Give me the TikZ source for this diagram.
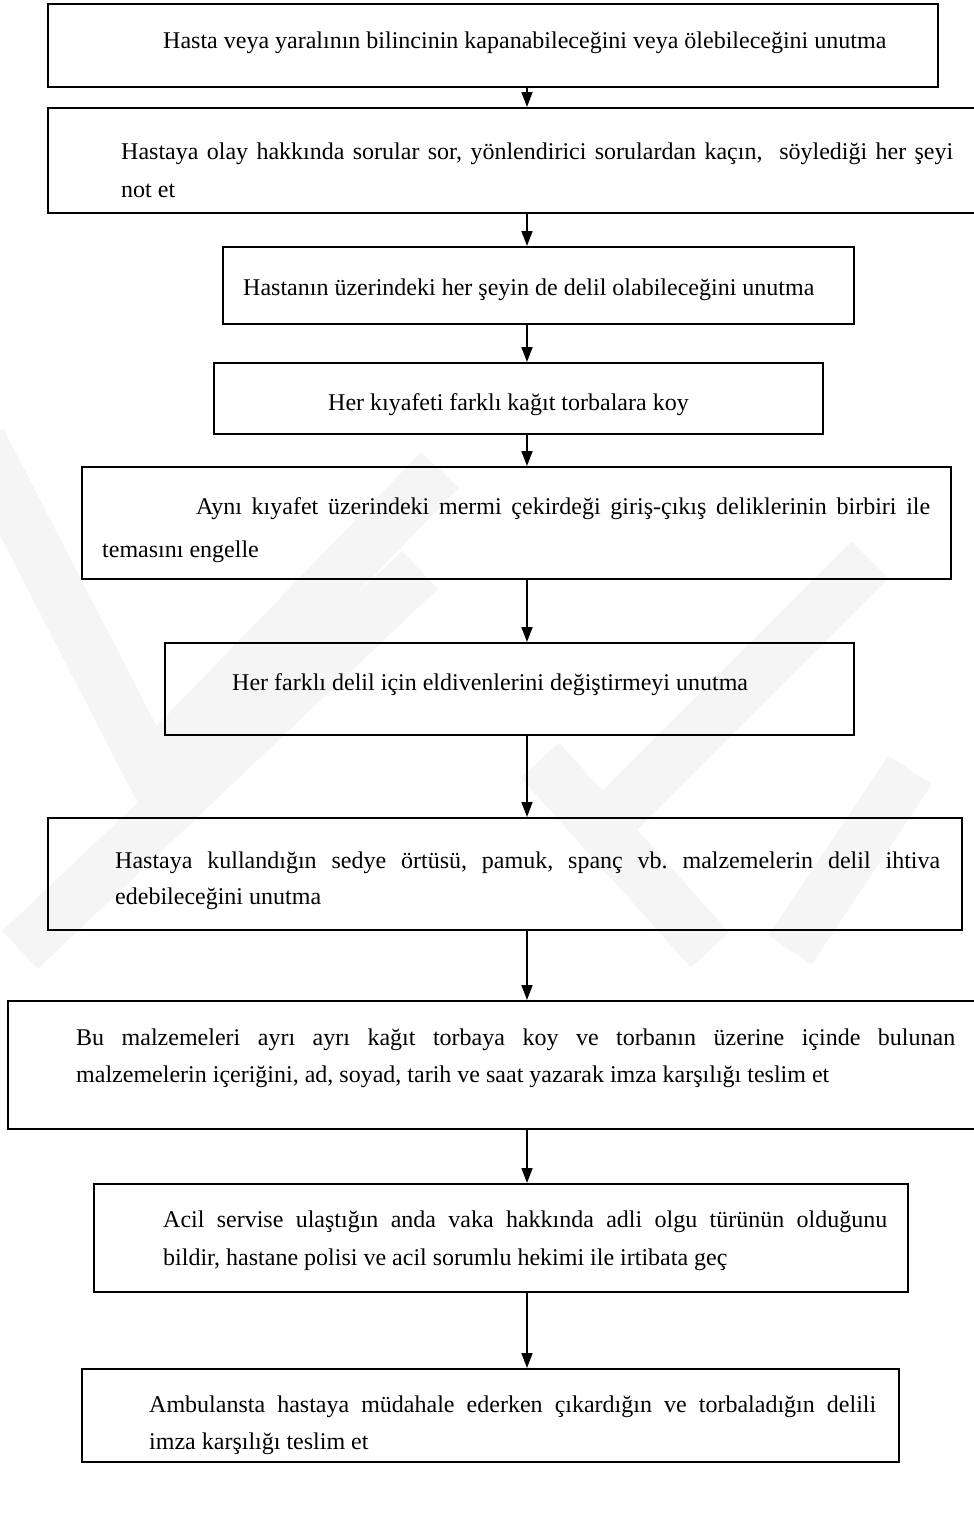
\documentclass[tikz,border=0pt]{standalone}
\usepackage{fontspec}
\setmainfont{Liberation Serif}
\usetikzlibrary{arrows.meta}
\frenchspacing

\tikzset{
  stepbox/.style={draw=black, line width=1.6pt, inner sep=0pt, anchor=north west},
  txt/.style={inner sep=0pt, anchor=base west, font=\fontsize{24pt}{29pt}\selectfont},
  flow/.style={line width=1.6pt, -{Triangle[length=15pt,width=11pt]}},
  mark band/.style={line width=52pt, draw=black!4, line cap=butt, line join=miter}
}

\begin{document}
\begin{tikzpicture}[x=1pt,y=-1pt]
\useasboundingbox (0,0) rectangle (974,1524);

% faint background emblem
\draw[mark band] (-20,440) -- (150,770) -- (440,470);
\draw[mark band] (20,950) -- (420,570);
\draw[mark band] (870,560) -- (600,830);
\draw[mark band] (540,760) -- (710,950);
\draw[mark band] (910,770) -- (790,950);

% vertical axis of the connectors
\coordinate (axis) at (527,0);

% boxes
\node[stepbox, minimum width=890pt, minimum height=83pt]  (b1)  at (47,3)    {};
\node[stepbox, minimum width=928pt, minimum height=105pt] (b2)  at (47,107)  {};
\node[stepbox, minimum width=631pt, minimum height=77pt]  (b3)  at (222,246) {};
\node[stepbox, minimum width=609pt, minimum height=71pt]  (b4)  at (213,362) {};
\node[stepbox, minimum width=869pt, minimum height=112pt] (b5)  at (81,466)  {};
\node[stepbox, minimum width=689pt, minimum height=92pt]  (b6)  at (164,642) {};
\node[stepbox, minimum width=914pt, minimum height=112pt] (b7)  at (47,817)  {};
\node[stepbox, minimum width=968pt, minimum height=128pt] (b8)  at (7,1000)  {};
\node[stepbox, minimum width=814pt, minimum height=108pt] (b9)  at (93,1183) {};
\node[stepbox, minimum width=817pt, minimum height=93pt]  (b10) at (81,1368) {};

% texts
\node[txt] (t1) at (163,48) {Hasta veya yaralının bilincinin kapanabileceğini veya ölebileceğini unutma};

\node[txt] (t2a) at (121,159) {\makebox[832pt][s]{Hastaya olay hakkında sorular sor, yönlendirici sorulardan kaçın,~ söylediği her şeyi}};
\node[txt] (t2b) at (121,197) {not et};

\node[txt] (t3) at (243,295) {Hastanın üzerindeki her şeyin de delil olabileceğini unutma};

\node[txt] (t4) at (328,410) {Her kıyafeti farklı kağıt torbalara koy};

\node[txt] (t5a) at (196,514) {\makebox[734pt][s]{Aynı kıyafet üzerindeki mermi çekirdeği giriş-çıkış deliklerinin birbiri ile}};
\node[txt] (t5b) at (102,557) {temasını engelle};

\node[txt] (t6) at (232,690) {Her farklı delil için eldivenlerini değiştirmeyi unutma};

\node[txt] (t7a) at (115,868) {\makebox[825pt][s]{Hastaya kullandığın sedye örtüsü, pamuk, spanç vb. malzemelerin delil ihtiva}};
\node[txt] (t7b) at (115,904) {edebileceğini unutma};

\node[txt] (t8a) at (76,1045) {\makebox[879pt][s]{Bu malzemeleri ayrı ayrı kağıt torbaya koy ve torbanın üzerine içinde bulunan}};
\node[txt] (t8b) at (76,1082) {malzemelerin içeriğini, ad, soyad, tarih ve saat yazarak imza karşılığı teslim et};

\node[txt] (t9a) at (163,1227) {\makebox[724pt][s]{Acil servise ulaştığın anda vaka hakkında adli olgu türünün olduğunu}};
\node[txt] (t9b) at (163,1265) {bildir, hastane polisi ve acil sorumlu hekimi ile irtibata geç};

\node[txt] (t10a) at (149,1412) {\makebox[727pt][s]{Ambulansta hastaya müdahale ederken çıkardığın ve torbaladığın delili}};
\node[txt] (t10b) at (149,1449) {imza karşılığı teslim et};

% connectors
\draw[flow] (b1.south -| axis) -- (b2.north -| axis);
\draw[flow] (b2.south -| axis) -- (b3.north -| axis);
\draw[flow] (b3.south -| axis) -- (b4.north -| axis);
\draw[flow] (b4.south -| axis) -- (b5.north -| axis);
\draw[flow] (b5.south -| axis) -- (b6.north -| axis);
\draw[flow] (b6.south -| axis) -- (b7.north -| axis);
\draw[flow] (b7.south -| axis) -- (b8.north -| axis);
\draw[flow] (b8.south -| axis) -- (b9.north -| axis);
\draw[flow] (b9.south -| axis) -- (b10.north -| axis);
\end{tikzpicture}
\end{document}
